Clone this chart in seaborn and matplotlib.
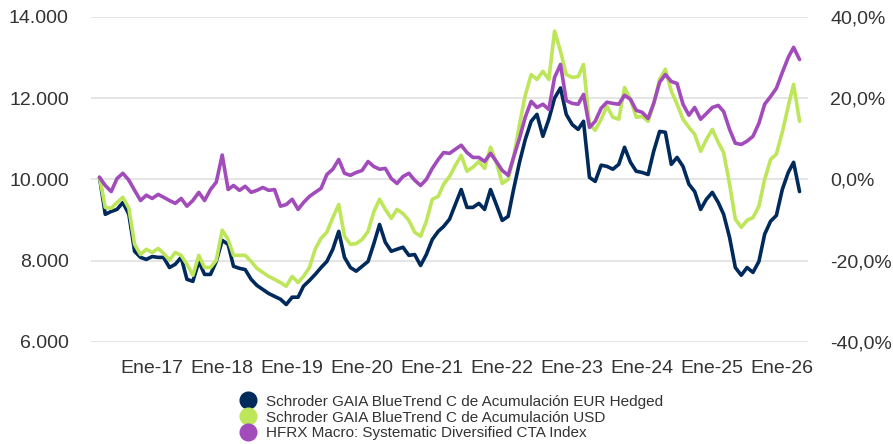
import matplotlib
matplotlib.use("Agg")
import matplotlib.pyplot as plt
from matplotlib.lines import Line2D
import seaborn as sns
import pandas as pd

# monthly values, Apr 2016 - Apr 2026 (base 10.000)
start_month = "2016-04-01"

eur_hedged = [
    10050, 9140, 9210, 9260, 9430, 9140, 8230, 8080, 8030,
    8100, 8080, 8080, 7830, 7910, 8080, 7540, 7490, 7980, 7660, 7660, 7980,
    8500, 8400, 7860, 7810, 7780, 7540, 7390, 7290, 7190, 7120, 7050, 6920,
    7100, 7100, 7370, 7510, 7660, 7830, 7980, 8280, 8720, 8080, 7830, 7740,
    7860, 7980, 8400, 8890, 8450, 8230, 8280, 8330, 8130, 8150, 7880, 8150,
    8520, 8720, 8840, 9020, 9380, 9750, 9310, 9310, 9410, 9260, 9750, 9380,
    8990, 9090, 9750, 10420, 10980, 11430, 11600, 11060, 11480, 12000, 12250, 11600,
    11350, 11230, 11430, 10050, 9950, 10350, 10320, 10250, 10370, 10790, 10420, 10200,
    10170, 10120, 10690, 11180, 11160, 10370, 10540, 10320, 9880, 9700, 9260, 9510,
    9680, 9430, 9140, 8570, 7830, 7640, 7830, 7710, 7980, 8650, 8970, 9110,
    9750, 10170, 10420, 9700,
]

usd = [
    10050, 9310, 9290, 9430, 9560, 9290, 8400, 8150, 8280,
    8200, 8300, 8180, 8010, 8200, 8130, 7910, 7640, 8130, 7830, 7830, 8010,
    8750, 8520, 8130, 8130, 8130, 7980, 7810, 7710, 7610, 7540, 7460, 7370,
    7610, 7460, 7610, 7830, 8280, 8550, 8700, 9060, 9380, 8600, 8400, 8420,
    8520, 8720, 9190, 9510, 9260, 9040, 9260, 9160, 8990, 8700, 8600, 8970,
    9510, 9580, 9880, 10070, 10340, 10590, 10200, 10300, 10440, 10270, 10790, 10420,
    9900, 10000, 10540, 11350, 12070, 12580, 12460, 12660, 12460, 13650, 13150, 12580,
    12510, 12530, 12830, 11350, 11210, 11480, 11800, 11530, 11480, 12260, 11970, 11530,
    11550, 11430, 11850, 12460, 12710, 12170, 11850, 11480, 11280, 11110, 10690, 10980,
    11230, 10910, 10660, 9880, 9020, 8820, 8990, 9060, 9340, 10000, 10490, 10620,
    11160, 11800, 12340, 11430,
]

hfrx = [
    10050, 9850, 9700, 10020, 10150, 9980, 9730, 9480, 9610,
    9530, 9630, 9560, 9480, 9410, 9530, 9340, 9480, 9680, 9480, 9750, 9930,
    10600, 9750, 9850, 9730, 9830, 9680, 9730, 9800, 9730, 9750, 9340, 9380,
    9510, 9260, 9430, 9580, 9680, 9780, 10120, 10250, 10490, 10150, 10100, 10170,
    10220, 10440, 10320, 10250, 10270, 10020, 9900, 10070, 10150, 9980, 9850, 10000,
    10270, 10490, 10660, 10640, 10740, 10840, 10660, 10540, 10540, 10440, 10640, 10440,
    10220, 10100, 10540, 11010, 11530, 11920, 11770, 11850, 11720, 12510, 12830, 11940,
    11870, 11850, 12090, 11280, 11430, 11750, 11900, 11870, 11850, 12070, 11970, 11700,
    11650, 11500, 11870, 12390, 12580, 12410, 12360, 11850, 11580, 11770, 11480, 11620,
    11770, 11820, 11670, 11230, 10890, 10860, 10940, 11060, 11380, 11850, 12040, 12240,
    12630, 13000, 13250, 12950,
]

series_names = [
    "Schroder GAIA BlueTrend C de Acumulación EUR Hedged",
    "Schroder GAIA BlueTrend C de Acumulación USD",
    "HFRX Macro: Systematic Diversified CTA Index",
]
colors = ["#002a5c", "#bde65a", "#a24bbb"]

left_ticks = [6000, 8000, 10000, 12000, 14000]
right_ticks = [-40, -20, 0, 20, 40]
tick_years = list(range(2017, 2027))

dates = pd.date_range(start_month, periods=len(eur_hedged), freq="MS")
df = pd.concat([
    pd.DataFrame({"fecha": dates, "valor": vals, "serie": name})
    for name, vals in zip(series_names, [eur_hedged, usd, hfrx])
])

sns.set_style("white")
plt.rcParams["font.family"] = ["Liberation Sans", "DejaVu Sans"]
text_color = "#333333"

fig = plt.figure(figsize=(8.93, 4.44), dpi=100)
ax = fig.add_axes([0.102, 0.230, 0.803, 0.732])

sns.lineplot(data=df, x="fecha", y="valor", hue="serie", hue_order=series_names,
             palette=colors, linewidth=2.6, legend=False, ax=ax)

ax.set_ylim(6000, 14000)
ax.set_yticks(left_ticks)
ax.set_yticklabels([f"{v:,}".replace(",", ".") for v in left_ticks])
ax.set_xlim(pd.Timestamp("2016-02-17"), pd.Timestamp("2026-05-16"))
ax.set_xticks([pd.Timestamp(f"{y}-01-01") for y in tick_years])
ax.set_xticklabels([f"Ene-{y % 100:02d}" for y in tick_years])
ax.set_xlabel("")
ax.set_ylabel("")
ax.grid(axis="y", color="#e3e3e3", linewidth=1.3)
ax.set_axisbelow(True)
for s in ax.spines.values():
    s.set_visible(False)
ax.tick_params(axis="y", length=0, pad=16, labelsize=14, labelcolor=text_color)
ax.tick_params(axis="x", length=0, pad=13, labelsize=14, labelcolor=text_color)

ax2 = ax.twinx()
ax2.set_ylim(-40, 40)
ax2.set_yticks(right_ticks)
ax2.set_yticklabels([f"{v:.1f}%".replace(".", ",") for v in right_ticks])
for s in ax2.spines.values():
    s.set_visible(False)
ax2.tick_params(axis="y", length=0, pad=16, labelsize=14, labelcolor=text_color)

handles = [Line2D([], [], marker="o", linestyle="", markersize=12,
                  markerfacecolor=c, markeredgecolor=c) for c in colors]
fig.legend(handles, series_names, loc="upper left", bbox_to_anchor=(0.259, 0.128),
           frameon=False, fontsize=11, labelcolor=text_color, handletextpad=0.6,
           labelspacing=0.12, borderpad=0, handlelength=1.2)

fig.savefig("out.png", dpi=100)
